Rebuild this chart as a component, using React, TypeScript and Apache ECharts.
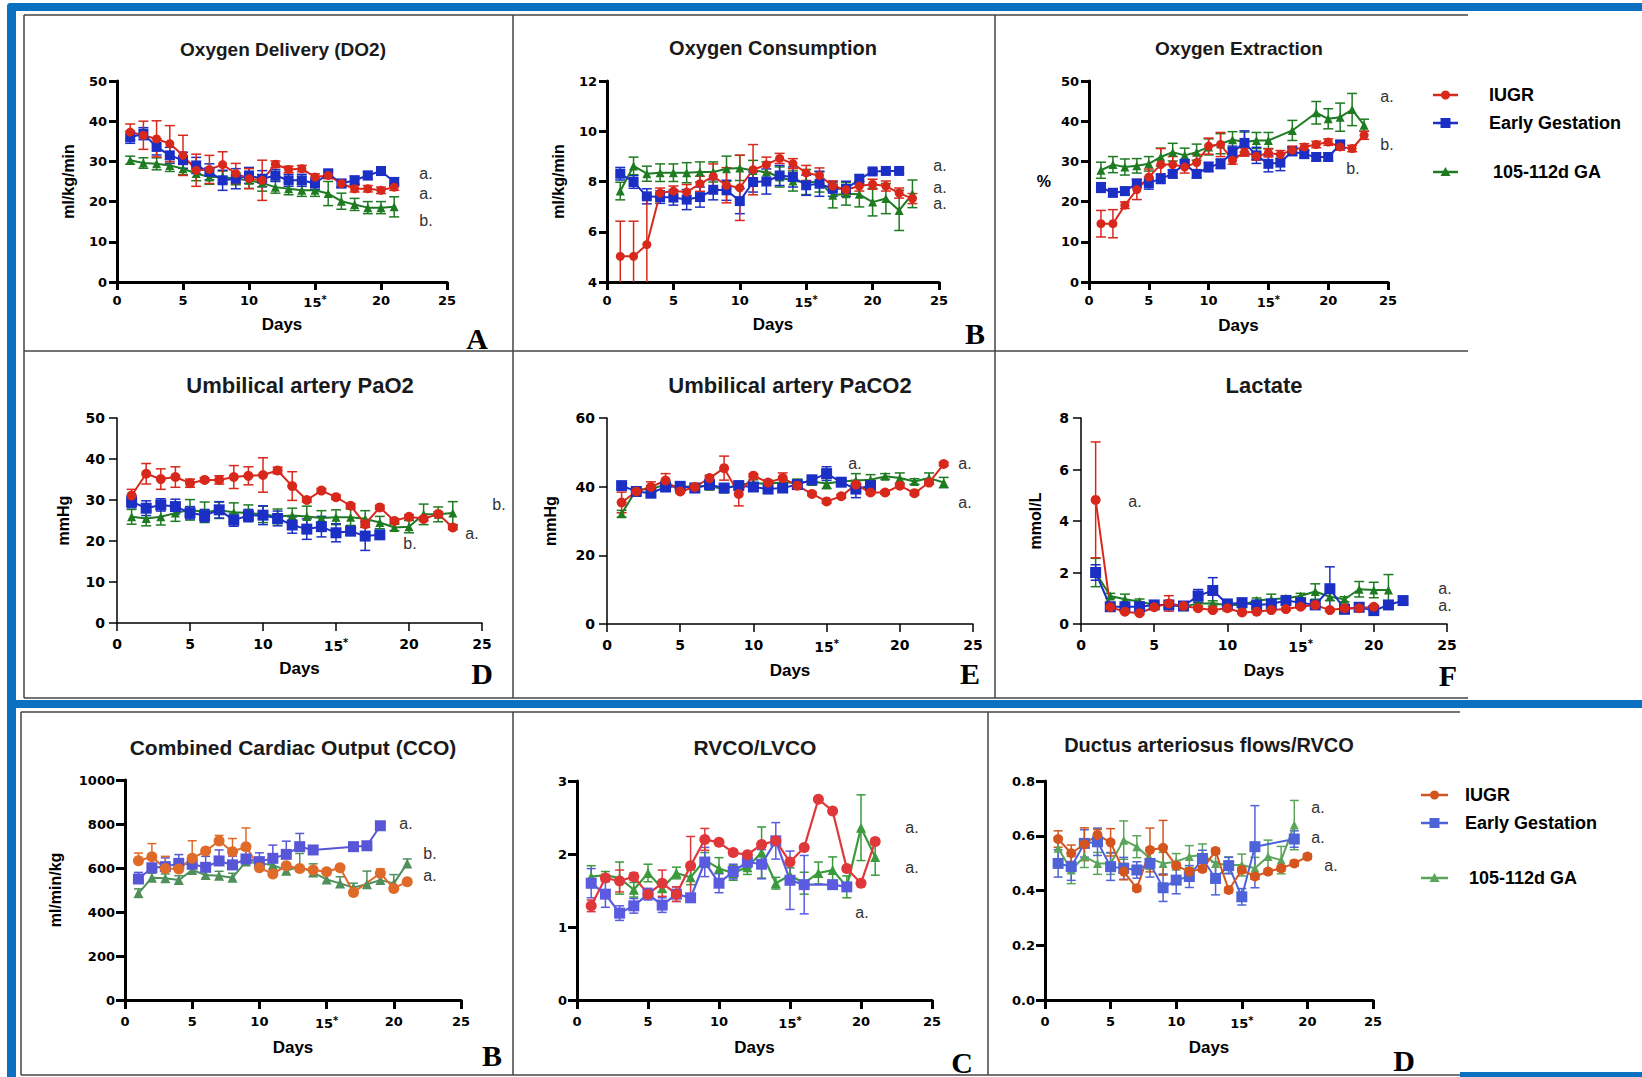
import React, { useEffect, useRef } from "react";
import * as echarts from "echarts";

// ---------------- DATA ----------------
const xTicks = [0, 5, 10, 15, 20, 25];

// Oxygen Delivery (DO2), days 1..21
const doIUGR = [37.3, 36.5, 35.6, 34.4, 31.5, 27.8, 28, 29.2, 27, 25.7, 25.3, 29.3, 28, 28.2, 26.1, 26.5, 24.5, 23.2, 23.2, 22.8, 23.6];
const doIUGRerr = [2, 3.5, 4.5, 4.5, 5, 4, 3.5, 3.2, 2.5, 2.5, 5, 0.8, 0.8, 0.8, 0.8, 0.8, 0.8, 0.8, 0.8, 0.8, 0.8];
const doEG = [36, 36.9, 33.6, 31.5, 30.3, 29, 27.4, 25.3, 25.7, 26.5, 25.7, 26.5, 25.3, 25.3, 24.5, 27, 24.5, 25.3, 26.5, 27.6, 24.9];
const doEGerr = [1.5, 1.5, 2, 2, 2, 2, 2, 2.5, 2.5, 2, 2, 1.5, 1.5, 1.5, 1.5, 1, 1, 1, 1, 1, 1];
const doGA = [30.3, 29.6, 29.4, 29, 28.2, 27, 26.1, 26.1, 25.7, 25.3, 24.6, 23.6, 23.2, 22.8, 22.8, 22, 20.1, 19.3, 18.5, 18.5, 18.7];
const doGAerr = [1, 1.3, 1.5, 1.5, 1.5, 1.8, 1.8, 1.5, 1.5, 2, 2, 1.5, 1.5, 1.5, 1.5, 3, 2, 1.5, 1.5, 1.5, 2.5];

// Oxygen Consumption
const voIUGR = [5.02, 5.02, 5.49, 7.54, 7.62, 7.58, 7.91, 8.2, 7.85, 7.75, 8.47, 8.67, 8.92, 8.71, 8.34, 8.24, 7.82, 7.67, 7.82, 7.89, 7.82, 7.54, 7.32];
const voIUGRerr = [1.4, 1.4, 1.9, 0.2, 0.2, 0.3, 0.3, 0.5, 0.7, 1.3, 1.0, 0.3, 0.2, 0.2, 0.3, 0.3, 0.2, 0.2, 0.2, 0.2, 0.2, 0.2, 0.2];
const voEG = [8.31, 7.98, 7.41, 7.38, 7.36, 7.28, 7.38, 7.67, 7.65, 7.22, 7.98, 8.0, 8.24, 8.18, 7.85, 7.91, 7.71, 7.71, 8.08, 8.4, 8.42, 8.42];
const voEGerr = [0.25, 0.25, 0.3, 0.25, 0.3, 0.4, 0.4, 0.4, 0.4, 0.5, 0.4, 0.5, 0.4, 0.4, 0.4, 0.5, 0.3, 0.3, 0.2, 0.1, 0.1, 0.1];
const voGA = [7.62, 8.62, 8.31, 8.35, 8.35, 8.35, 8.38, 8.38, 8.51, 8.54, 8.44, 8.38, 8.18, 8.02, 7.98, 7.98, 7.45, 7.51, 7.49, 7.18, 7.32, 6.85, 7.51];
const voGAerr = [0.35, 0.35, 0.3, 0.35, 0.35, 0.4, 0.4, 0.4, 0.5, 0.5, 0.4, 0.4, 0.4, 0.4, 0.5, 0.4, 0.5, 0.45, 0.5, 0.55, 0.6, 0.8, 0.55];

// Oxygen Extraction
const oeIUGR = [14.5, 14.5, 19.1, 23, 26.1, 29.2, 29.2, 28.6, 29.7, 33.8, 34.2, 30.3, 32.3, 31.3, 32.1, 31.7, 32.8, 33.6, 34.2, 34.8, 33.6, 33.2, 36.5];
const oeIUGRerr = [3.3, 3.5, 0.8, 2.5, 2, 4, 2, 1.5, 2, 2, 3, 1, 1, 1, 1, 1, 1, 0.8, 0.8, 0.8, 0.8, 0.8, 1];
const oeEG = [23.5, 22.2, 22.6, 24.5, 24.6, 25.7, 26.9, 29.4, 26.9, 28.6, 29.4, 32.3, 34.6, 31.5, 29.4, 29.7, 32.5, 31.8, 31.1, 31.1, 34.2];
const oeEGerr = [1.2, 1, 1, 1, 1.5, 1.2, 1, 1, 1, 1.2, 1.2, 1.5, 3, 2, 2, 2, 1, 1, 1, 1, 1];
const oeGA = [27.8, 29.2, 28.6, 28.9, 29.4, 31.1, 32.3, 31.5, 32.3, 33.6, 34.4, 35.4, 34.8, 35.2, 35.2, null, 37.7, null, 42.1, 40.6, 41, 42.9, 39];
const oeGAerr = [2, 2, 2, 1.8, 1.8, 2.2, 2.2, 1.8, 2, 2, 2.5, 2, 2.5, 2, 2, 0, 2.5, 0, 2.8, 2.5, 3.5, 4, 1.5];

// Umbilical artery PaO2
const paoIUGR = [31.1, 36.4, 35.1, 35.6, 34.1, 34.9, 34.9, 35.6, 35.9, 36.1, 37.2, 33.4, 30, 32.3, 30.7, 28.6, 24.1, 28.2, 24.9, 25.9, 25.4, 26.6, 23.3];
const paoIUGRerr = [1.5, 2.5, 2.5, 2.5, 1, 0.5, 1, 2.8, 2.2, 4.2, 0.8, 3.5, 0.5, 0.5, 0.5, 0.5, 0.8, 0.5, 0.5, 0.5, 0.5, 0.5, 0.5];
const paoEG = [29.6, 28, 28.8, 28.4, 26.9, 26.2, 27.6, 25.1, 26.2, 26.3, 25.5, 23.9, 22.9, 23.5, 22, 22.4, 21.2, 21.5];
const paoEGerr = [1.5, 1.8, 1.5, 1.8, 1.5, 1.5, 2, 1.5, 1.5, 2.3, 1.8, 2, 2.5, 2.5, 2.2, 1, 3.5, 1];
const paoGA = [25.9, 25.5, 25.9, 26.8, 27.6, 27, 27.5, 27, 26.8, 26.5, 26, 26.2, 26, 25.6, 25.8, 25.8, 25.4, 24.5, 23.3, 23.5, 26.5, 26.5, 26.8];
const paoGAerr = [1.8, 1.8, 2, 2, 2.5, 2.5, 2, 2.3, 2, 2, 1.8, 1.8, 2.5, 1.8, 1.8, 2, 2, 1.5, 0.8, 1.5, 2.5, 1.8, 2.8];

// Umbilical artery PaCO2
const pacIUGR = [35.4, 38.6, 39.9, 41.8, 38.6, 39.9, 42.5, 45.4, 37.9, 43.2, 41.2, 42.5, 40.3, 37.9, 35.7, 37.2, 40.6, 38.3, 38.3, 40.3, 38.1, 41.2, 46.6];
const pacIUGRerr = [3, 0.5, 1.5, 2, 0.5, 0.5, 0.8, 3.5, 3.5, 0.5, 0.5, 1.5, 0.5, 0.5, 0.5, 0.5, 0.5, 0.5, 0.5, 0.5, 0.5, 0.5, 0.5];
const pacEG = [40.3, 38.6, 38.1, 39.9, 40.1, 39.6, 40.6, 39.6, 40.3, 39.9, 39.3, 39.6, 40.6, 42, 43.8, 41.3, 39.3, 40.3];
const pacEGerr = [0.8, 0.8, 1, 1, 0.8, 0.8, 0.8, 0.8, 1, 1, 0.8, 0.8, 0.8, 1, 2, 0.8, 2.5, 1.5];
const pacGA = [32.1, 39.1, 39.3, 40.6, 39.9, 40.1, 40.1, 39.3, 40.6, 41, 40.9, 41.2, 41.2, 41.5, 40.9, 41.5, 41.8, 42, 43, 42.5, 41.5, 42.5, 41.2];
const pacGAerr = [1, 0.8, 1, 1, 0.8, 0.8, 1, 1, 1, 1, 1, 1, 1, 1, 1.5, 1, 2, 1.5, 0.8, 1.5, 0.8, 1.5, 1.5];

// Lactate
const lacIUGR = [4.82, 0.65, 0.48, 0.42, 0.65, 0.8, 0.7, 0.61, 0.54, 0.61, 0.45, 0.48, 0.54, 0.58, 0.67, 0.74, 0.54, 0.61, 0.61, 0.67];
const lacIUGRerr = [2.25, 0.05, 0.05, 0.05, 0.05, 0.3, 0.05, 0.05, 0.05, 0.1, 0.05, 0.05, 0.05, 0.05, 0.05, 0.05, 0.05, 0.05, 0.05, 0.05];
const lacEG = [2.0, 0.67, 0.67, 0.67, 0.74, 0.74, 0.7, 1.09, 1.3, 0.78, 0.83, 0.74, 0.78, 0.91, 0.83, 0.74, 1.37, 0.57, 0.65, 0.52, 0.74, 0.91];
const lacEGerr = [0.3, 0.05, 0.1, 0.1, 0.05, 0.1, 0.05, 0.25, 0.5, 0.1, 0.1, 0.1, 0.1, 0.1, 0.1, 0.1, 0.85, 0.05, 0.05, 0.05, 0.05, 0.05];
const lacGA = [2.0, 1.09, 0.96, 0.87, 0.74, 0.74, 0.67, 0.8, 0.8, 0.74, 0.74, 0.91, 0.96, 1.0, 1.09, 1.26, 1.06, 0.96, 1.35, 1.32, 1.32];
const lacGAerr = [0.55, 0.1, 0.2, 0.1, 0.1, 0.1, 0.1, 0.1, 0.1, 0.1, 0.1, 0.1, 0.2, 0.1, 0.1, 0.3, 0.15, 0.1, 0.3, 0.3, 0.6];

// Combined Cardiac Output (upper error bars only)
const ccoIUGR = [633, 651, 598, 595, 644, 677, 723, 674, 697, 601, 573, 610, 598, 591, 583, 601, 489, null, 576, 507, 538];
const ccoIUGRerr = [35, 60, 55, 45, 80, 10, 25, 60, 85, 10, 10, 10, 10, 10, 10, 10, 10, 0, 20, 10, 10];
const ccoEG = [550, 601, 606, 621, 617, 603, 632, 614, 641, 629, 644, 662, 697, 682, null, null, 697, 701, 792];
const ccoEGerr = [30, 40, 40, 40, 40, 50, 50, 40, 40, 40, 60, 60, 60, 10, 0, 0, 10, 10, 10];
const ccoGA = [485, 556, 553, 545, 591, 568, 565, 556, 629, 621, 614, 588, 606, 579, 548, 530, 511, 526, 545, 530, 621];
const ccoGAerr = [20, 20, 20, 20, 20, 20, 20, 20, 20, 20, 20, 20, 60, 40, 30, 30, 20, 60, 40, 40, 20];

// RVCO/LVCO
const rvIUGR = [1.29, 1.67, 1.63, 1.69, 1.45, 1.6, 1.45, 1.84, 2.2, 2.16, 2.02, 1.99, 2.13, 2.18, 1.89, 2.09, 2.75, 2.59, 1.8, 1.6, 2.17];
const rvIUGRerr = [0.08, 0.05, 0.15, 0.05, 0.05, 0.18, 0.1, 0.4, 0.15, 0.03, 0.03, 0.03, 0.03, 0.03, 0.03, 0.03, 0.03, 0.03, 0.03, 0.03, 0.03];
const rvEG = [1.6, 1.45, 1.19, 1.29, 1.45, 1.3, 1.45, 1.4, 1.89, 1.6, 1.76, 1.89, 1.86, 2.18, 1.64, 1.58, null, 1.58, 1.55];
const rvEGerr = [0.2, 0.18, 0.1, 0.1, 0.08, 0.1, 0.1, 0.05, 0.2, 0.13, 0.1, 0.08, 0.2, 0.25, 0.4, 0.4, 0, 0.05, 0.05];
const rvGA = [1.69, 1.71, 1.67, 1.51, 1.74, 1.53, 1.74, 1.68, 1.92, 1.8, 1.74, 1.82, 2.02, 1.6, 1.71, 1.6, 1.74, 1.78, 1.55, 2.36, 1.96];
const rvGAerr = [0.15, 0.05, 0.22, 0.1, 0.12, 0.05, 0.08, 0.1, 0.1, 0.15, 0.1, 0.1, 0.35, 0.08, 0.1, 0.15, 0.15, 0.18, 0.15, 0.45, 0.25];

// Ductus arteriosus flows/RVCO
const daIUGR = [0.588, 0.536, 0.569, 0.603, 0.576, 0.469, 0.408, 0.548, 0.556, 0.491, 0.469, 0.479, 0.544, 0.402, 0.475, 0.451, 0.469, 0.481, 0.499, 0.524];
const daIUGRerr = [0.03, 0.03, 0.06, 0.02, 0.05, 0.03, 0.01, 0.08, 0.1, 0.01, 0.01, 0.01, 0.01, 0.01, 0.01, 0.01, 0.01, 0.01, 0.01, 0.01];
const daEG = [0.499, 0.487, 0.572, 0.578, 0.487, 0.481, 0.475, 0.499, 0.41, 0.438, 0.451, 0.517, 0.444, 0.491, 0.377, 0.56, null, null, 0.588];
const daEGerr = [0.05, 0.05, 0.05, 0.05, 0.05, 0.04, 0.03, 0.05, 0.05, 0.05, 0.04, 0.03, 0.06, 0.03, 0.03, 0.15, 0, 0, 0.03];
const daGA = [0.554, 0.475, 0.524, 0.499, 0.499, 0.584, 0.56, 0.517, 0.499, 0.505, 0.524, 0.53, 0.499, 0.493, 0.493, 0.481, 0.524, 0.511, 0.639];
const daGAerr = [0.04, 0.05, 0.04, 0.04, 0.04, 0.07, 0.04, 0.04, 0.04, 0.03, 0.04, 0.04, 0.04, 0.03, 0.04, 0.04, 0.06, 0.05, 0.09];

const legendNames = ["IUGR", "Early Gestation", "105-112d GA"];

// ---------------- STYLE ----------------
const FONT = '"Liberation Sans", Arial, Helvetica, sans-serif';
const TICKFONT = '"DejaVu Sans", Verdana, sans-serif';
const SERIF = '"Liberation Serif", "Times New Roman", serif';
const C_TOP = { iugr: "#D8281C", eg: "#1B2FC4", ga: "#1E7B22" };
const C_CCO = { iugr: "#E06A2A", eg: "#5656D6", ga: "#4F8F5C" };
const C_RV = { iugr: "#E0383A", eg: "#5A5BE0", ga: "#3A9A3C" };
const C_DA = { iugr: "#D4561E", eg: "#4F63D8", ga: "#5BA45B" };
const BLUE = "#0A70C0";
const FRAME = "#444444";

type Panel = {
  grid: { left: number; top: number; width: number; height: number };
  yMin: number; yMax: number; yInt: number;
  yName?: string; yNameGap?: number; yNameRotate?: number; yDec?: number;
  axisW: number; tickLen: number; xMargin: number; yMargin: number; xNameGap: number; tickFont: number;
  colors: { iugr: string; eg: string; ga: string };
  data: any[]; upOnly?: boolean; lineW: number; sym: number[]; cap: number;
};

const panels: Panel[] = [
  { grid: { left: 117, top: 81, width: 330, height: 201 }, yMin: 0, yMax: 50, yInt: 10, yName: "ml/kg/min", yNameGap: 41, yNameRotate: 90,
    axisW: 3, tickLen: 8, xMargin: 12, yMargin: 10, xNameGap: 34, tickFont: 13, colors: C_TOP, data: [doIUGR, doIUGRerr, doEG, doEGerr, doGA, doGAerr], lineW: 2, sym: [9, 10, 9], cap: 10 },
  { grid: { left: 607, top: 81, width: 332, height: 201 }, yMin: 4, yMax: 12, yInt: 2, yName: "ml/kg/min", yNameGap: 41, yNameRotate: 90,
    axisW: 3, tickLen: 8, xMargin: 12, yMargin: 10, xNameGap: 34, tickFont: 13, colors: C_TOP, data: [voIUGR, voIUGRerr, voEG, voEGerr, voGA, voGAerr], lineW: 2, sym: [9, 10, 9], cap: 10 },
  { grid: { left: 1089, top: 81, width: 299, height: 201 }, yMin: 0, yMax: 50, yInt: 10, yName: "%", yNameGap: 38, yNameRotate: 0,
    axisW: 3, tickLen: 8, xMargin: 12, yMargin: 10, xNameGap: 35, tickFont: 13, colors: C_TOP, data: [oeIUGR, oeIUGRerr, oeEG, oeEGerr, oeGA, oeGAerr], lineW: 2, sym: [9, 10, 9], cap: 10 },
  { grid: { left: 117, top: 418, width: 365, height: 205 }, yMin: 0, yMax: 50, yInt: 10, yName: "mmHg", yNameGap: 46, yNameRotate: 90,
    axisW: 1.5, tickLen: 8, xMargin: 14, yMargin: 12, xNameGap: 37, tickFont: 14, colors: C_TOP, data: [paoIUGR, paoIUGRerr, paoEG, paoEGerr, paoGA, paoGAerr], lineW: 2, sym: [10, 11, 9], cap: 10 },
  { grid: { left: 607, top: 418, width: 366, height: 206 }, yMin: 0, yMax: 60, yInt: 20, yName: "mmHg", yNameGap: 49, yNameRotate: 90,
    axisW: 1.5, tickLen: 8, xMargin: 14, yMargin: 12, xNameGap: 38, tickFont: 14, colors: C_TOP, data: [pacIUGR, pacIUGRerr, pacEG, pacEGerr, pacGA, pacGAerr], lineW: 2, sym: [10, 11, 9], cap: 10 },
  { grid: { left: 1081, top: 418, width: 366, height: 206 }, yMin: 0, yMax: 8, yInt: 2, yName: "mmol/L", yNameGap: 38, yNameRotate: 90,
    axisW: 1.5, tickLen: 8, xMargin: 14, yMargin: 12, xNameGap: 38, tickFont: 14, colors: C_TOP, data: [lacIUGR, lacIUGRerr, lacEG, lacEGerr, lacGA, lacGAerr], lineW: 2, sym: [10, 11, 9], cap: 10 },
  { grid: { left: 125, top: 780, width: 336, height: 220 }, yMin: 0, yMax: 1000, yInt: 200, yName: "ml/min/kg", yNameGap: 62, yNameRotate: 90,
    axisW: 3, tickLen: 9, xMargin: 15, yMargin: 10, xNameGap: 39, tickFont: 13, colors: C_CCO, data: [ccoIUGR, ccoIUGRerr, ccoEG, ccoEGerr, ccoGA, ccoGAerr], upOnly: true, lineW: 2, sym: [11, 11, 10], cap: 9 },
  { grid: { left: 577, top: 781, width: 355, height: 219 }, yMin: 0, yMax: 3, yInt: 1,
    axisW: 3, tickLen: 9, xMargin: 15, yMargin: 10, xNameGap: 39, tickFont: 13, colors: C_RV, data: [rvIUGR, rvIUGRerr, rvEG, rvEGerr, rvGA, rvGAerr], lineW: 2.2, sym: [11, 11, 10], cap: 9 },
  { grid: { left: 1045, top: 781, width: 328, height: 219 }, yMin: 0, yMax: 0.8, yInt: 0.2, yDec: 1,
    axisW: 3, tickLen: 9, xMargin: 15, yMargin: 10, xNameGap: 39, tickFont: 13, colors: C_DA, data: [daIUGR, daIUGRerr, daEG, daEGerr, daGA, daGAerr], lineW: 2, sym: [10, 11, 9], cap: 9 },
];

const titles = [
  { text: "Oxygen Delivery (DO2)", x: 283, y: 49, size: 19 },
  { text: "Oxygen Consumption", x: 773, y: 48, size: 20 },
  { text: "Oxygen Extraction", x: 1239, y: 48, size: 19 },
  { text: "Umbilical artery PaO2", x: 300, y: 385, size: 22 },
  { text: "Umbilical artery PaCO2", x: 790, y: 385, size: 22 },
  { text: "Lactate", x: 1264, y: 385, size: 22 },
  { text: "Combined Cardiac Output (CCO)", x: 293, y: 747, size: 21 },
  { text: "RVCO/LVCO", x: 755, y: 747, size: 21 },
  { text: "Ductus arteriosus flows/RVCO", x: 1209, y: 745, size: 20 },
];

const letters = [
  { t: "A", x: 477, y: 338 }, { t: "B", x: 975, y: 333 },
  { t: "D", x: 482, y: 673 }, { t: "E", x: 970, y: 673 }, { t: "F", x: 1448, y: 675 },
  { t: "B", x: 492, y: 1055 }, { t: "C", x: 962, y: 1062 }, { t: "D", x: 1404, y: 1060 },
];

const notes = [
  ["a.", 426, 173], ["a.", 426, 193], ["b.", 426, 220],
  ["a.", 940, 165], ["a.", 940, 187], ["a.", 940, 203],
  ["a.", 1387, 96], ["b.", 1387, 144], ["b.", 1353, 168],
  ["b.", 499, 504], ["a.", 472, 533], ["b.", 410, 543],
  ["a.", 855, 463], ["a.", 965, 463], ["a.", 965, 502],
  ["a.", 1135, 501], ["a.", 1445, 588], ["a.", 1445, 605],
  ["a.", 406, 823], ["b.", 430, 853], ["a.", 430, 875],
  ["a.", 912, 827], ["a.", 912, 867], ["a.", 862, 912],
  ["a.", 1318, 807], ["a.", 1318, 837], ["a.", 1331, 865],
];

// ---------------- BUILDERS ----------------
function errSeries(i: number, vals: any[], errs: number[], color: string, upOnly: boolean, cap: number) {
  const data = vals
    .map((v, k) => (v == null ? null : [k + 1, upOnly ? v : v - errs[k], v + errs[k]]))
    .filter((d) => d !== null);
  return {
    type: "custom",
    xAxisIndex: i,
    yAxisIndex: i,
    clip: true,
    silent: true,
    z: 2,
    encode: { x: 0, y: [1, 2] },
    data,
    renderItem: (params: any, api: any) => {
      const x = api.value(0);
      const lo = api.coord([x, api.value(1)]);
      const hi = api.coord([x, api.value(2)]);
      const st = { stroke: color, lineWidth: 1.5 };
      const ch: any[] = [
        { type: "line", shape: { x1: lo[0], y1: lo[1], x2: hi[0], y2: hi[1] }, style: st },
        { type: "line", shape: { x1: hi[0] - cap / 2, y1: hi[1], x2: hi[0] + cap / 2, y2: hi[1] }, style: st },
      ];
      if (!upOnly) ch.push({ type: "line", shape: { x1: lo[0] - cap / 2, y1: lo[1], x2: lo[0] + cap / 2, y2: lo[1] }, style: st });
      return { type: "group", children: ch };
    },
  };
}

function lineSeries(i: number, name: string, vals: any[], color: string, symbol: string, size: number, w: number) {
  return {
    type: "line",
    name,
    xAxisIndex: i,
    yAxisIndex: i,
    data: vals.map((v, k) => [k + 1, v]),
    connectNulls: true,
    symbol,
    symbolSize: size,
    showSymbol: true,
    itemStyle: { color, borderWidth: 0 },
    lineStyle: { color, width: w },
    z: 3,
  };
}

function legendGraphic(x0: number, x1: number, tx: number, ys: number[], c: { iugr: string; eg: string; ga: string }, dx3: number) {
  const cx = (x0 + x1) / 2;
  const cols = [c.iugr, c.eg, c.ga];
  const out: any[] = [];
  ys.forEach((y, k) => {
    out.push({ type: "line", shape: { x1: x0, y1: y, x2: x1, y2: y }, style: { stroke: cols[k], lineWidth: 2.5 } });
    if (k === 0) out.push({ type: "circle", shape: { cx, cy: y, r: 4.5 }, style: { fill: cols[k] } });
    if (k === 1) out.push({ type: "rect", shape: { x: cx - 5, y: y - 5, width: 10, height: 10 }, style: { fill: cols[k] } });
    if (k === 2) out.push({ type: "polygon", shape: { points: [[cx, y - 5], [cx - 5, y + 4], [cx + 5, y + 4]] }, style: { fill: cols[k] } });
    out.push({
      type: "text", x: tx + (k === 2 ? dx3 : 0), y,
      style: { text: legendNames[k], fontFamily: FONT, fontWeight: "bold", fontSize: 18, fill: "#000", textVerticalAlign: "middle" },
    });
  });
  return out;
}

function buildOption() {
  const grid: any[] = [];
  const xAxis: any[] = [];
  const yAxis: any[] = [];
  const series: any[] = [];
  panels.forEach((p, i) => {
    grid.push({ ...p.grid, containLabel: false });
    xAxis.push({
      gridIndex: i, type: "value", min: xTicks[0], max: xTicks[xTicks.length - 1], interval: 5,
      axisLine: { show: true, onZero: false, lineStyle: { color: "#000", width: p.axisW } },
      axisTick: { show: true, length: p.tickLen, lineStyle: { color: "#000", width: p.axisW } },
      splitLine: { show: false },
      axisLabel: {
        margin: p.xMargin, color: "#000", fontFamily: TICKFONT, fontWeight: "bold", fontSize: p.tickFont,
        formatter: (v: number) => (v === 15 ? "15{s|*}" : String(v)),
        rich: { s: { fontFamily: TICKFONT, fontWeight: "bold", fontSize: 10, color: "#000", verticalAlign: "top", padding: [0, 0, 7, 0] } },
      },
      name: "Days", nameLocation: "middle", nameGap: p.xNameGap,
      nameTextStyle: { fontFamily: FONT, fontWeight: "bold", fontSize: 17, color: "#000" },
    });
    yAxis.push({
      gridIndex: i, type: "value", min: p.yMin, max: p.yMax, interval: p.yInt,
      axisLine: { show: true, onZero: false, lineStyle: { color: "#000", width: p.axisW } },
      axisTick: { show: true, length: p.tickLen, lineStyle: { color: "#000", width: p.axisW } },
      splitLine: { show: false },
      axisLabel: {
        margin: p.yMargin, color: "#000", fontFamily: TICKFONT, fontWeight: "bold", fontSize: p.tickFont,
        formatter: (v: number) => (p.yDec ? v.toFixed(p.yDec) : String(Math.round(v * 100) / 100)),
      },
      name: p.yName || "", nameLocation: "middle", nameGap: p.yNameGap || 40, nameRotate: p.yNameRotate ?? 90,
      nameTextStyle: { fontFamily: FONT, fontWeight: "bold", fontSize: 16, color: "#000" },
    });
    const [iu, iuE, eg, egE, ga, gaE] = p.data;
    const up = !!p.upOnly;
    series.push(errSeries(i, ga, gaE, p.colors.ga, up, p.cap));
    series.push(errSeries(i, eg, egE, p.colors.eg, up, p.cap));
    series.push(errSeries(i, iu, iuE, p.colors.iugr, up, p.cap));
    series.push(lineSeries(i, "105-112d GA", ga, p.colors.ga, "triangle", p.sym[2], p.lineW));
    series.push(lineSeries(i, "Early Gestation", eg, p.colors.eg, "rect", p.sym[1], p.lineW));
    series.push(lineSeries(i, "IUGR", iu, p.colors.iugr, "circle", p.sym[0], p.lineW));
  });

  const g: any[] = [];
  // blue frame
  g.push({ type: "rect", shape: { x: 7, y: 3, width: 1635, height: 8, r: [4, 0, 0, 0] }, style: { fill: BLUE } });
  g.push({ type: "rect", shape: { x: 7, y: 3, width: 9, height: 1074, r: [4, 0, 0, 0] }, style: { fill: BLUE } });
  g.push({ type: "rect", shape: { x: 7, y: 700, width: 1635, height: 8 }, style: { fill: BLUE } });
  g.push({ type: "rect", shape: { x: 1460, y: 1072, width: 182, height: 5 }, style: { fill: BLUE } });
  // black panel frames
  const L = (x1: number, y1: number, x2: number, y2: number) =>
    g.push({ type: "line", shape: { x1, y1, x2, y2 }, style: { stroke: FRAME, lineWidth: 1.5 } });
  L(24, 15, 1468, 15); L(24, 351, 1468, 351); L(24, 698, 1468, 698);
  L(24, 15, 24, 698); L(513, 15, 513, 698); L(995, 15, 995, 698);
  L(21, 712, 1460, 712); L(21, 1075, 1460, 1075);
  L(21, 712, 21, 1075); L(513, 712, 513, 1075); L(988, 712, 988, 1075);
  // titles
  titles.forEach((t) =>
    g.push({ type: "text", x: t.x, y: t.y, style: { text: t.text, fontFamily: FONT, fontWeight: "bold", fontSize: t.size, fill: "#1a1a1a", textAlign: "center", textVerticalAlign: "middle" } })
  );
  letters.forEach((t) =>
    g.push({ type: "text", x: t.x, y: t.y, style: { text: t.t, fontFamily: SERIF, fontWeight: "bold", fontSize: 30, fill: "#000", textAlign: "center", textVerticalAlign: "middle" } })
  );
  notes.forEach((n) =>
    g.push({ type: "text", x: n[1] as number, y: n[2] as number, style: { text: n[0] as string, fontFamily: FONT, fontSize: 16, fill: "#333", textAlign: "center", textVerticalAlign: "middle" } })
  );
  g.push(...legendGraphic(1433, 1458, 1489, [95, 123, 172], C_TOP, 4));
  g.push(...legendGraphic(1421, 1448, 1465, [795, 823, 878], C_DA, 4));

  return { animation: false, backgroundColor: "#fff", grid, xAxis, yAxis, series, graphic: { elements: g } };
}

export default function App() {
  const ref = useRef<HTMLDivElement>(null);
  useEffect(() => {
    if (!ref.current) return;
    const chart = echarts.init(ref.current, undefined, { renderer: "svg" });
    chart.setOption(buildOption() as any);
    return () => chart.dispose();
  }, []);
  return <div ref={ref} style={{ position: "absolute", left: 0, top: 0, width: 1642, height: 1077, background: "#fff" }} />;
}
